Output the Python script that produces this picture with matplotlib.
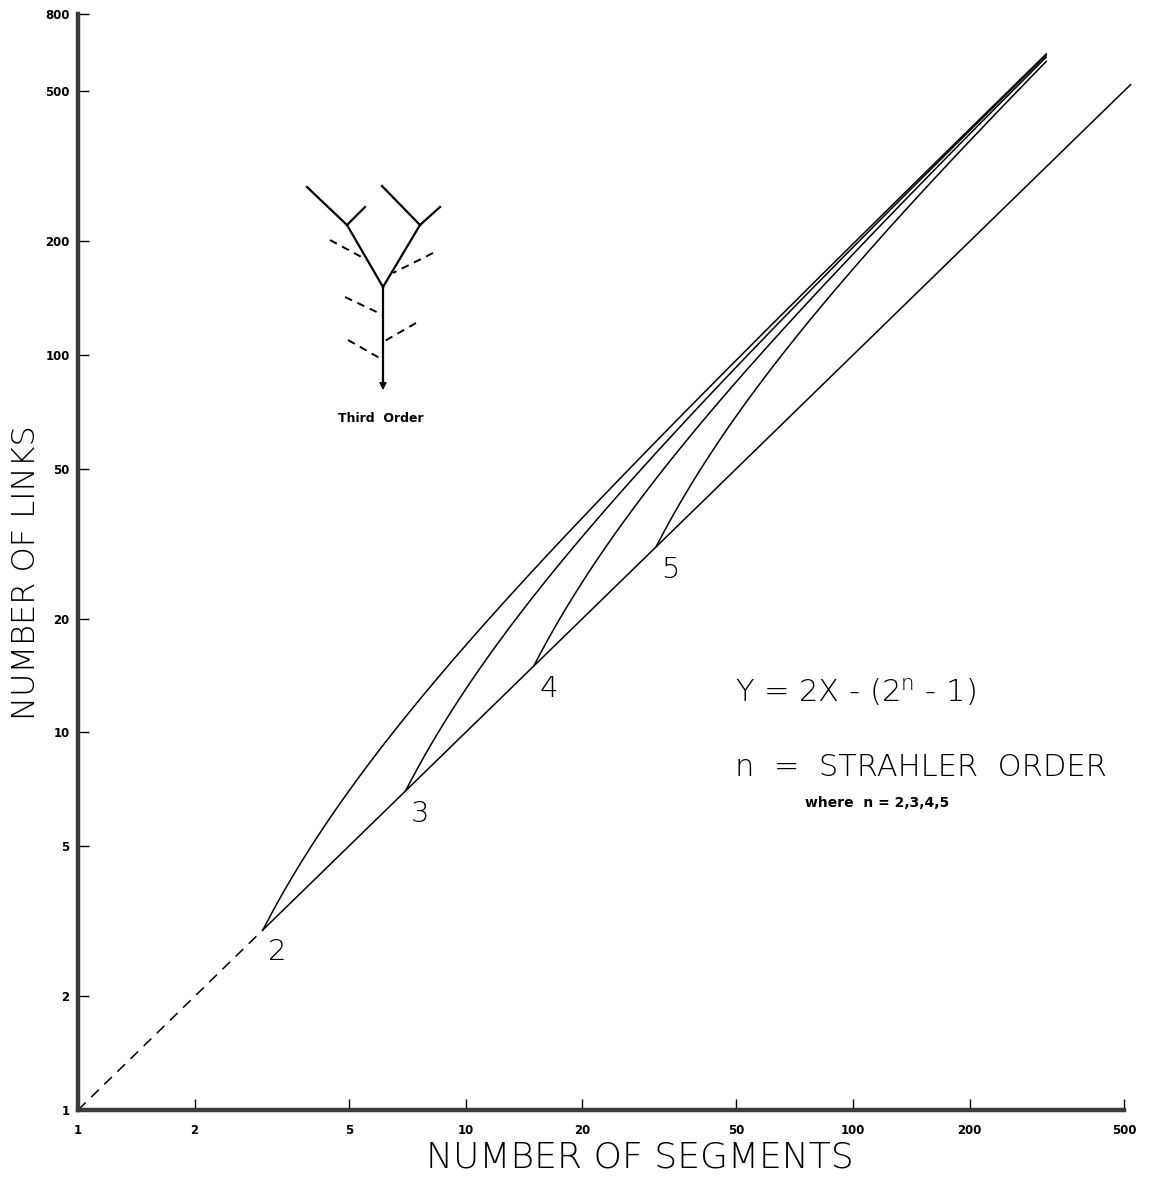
import numpy as np
import matplotlib
matplotlib.use("Agg")
import matplotlib.pyplot as plt
from matplotlib.ticker import FixedLocator, FixedFormatter, NullLocator

# Strahler orders and the points where each curve starts (X = Y = 2^n - 1)
orders = [2, 3, 4, 5]
start_segments = [3, 7, 15, 31]
end_segments = 315          # upper end of the order curves
line_end = 520              # upper end of the Y = X boundary

x_ticks = [1, 2, 5, 10, 20, 50, 100, 200, 500]
x_tick_labels = ["1", "2", "5", "10", "20", "50", "100", "200", "500"]
y_ticks = [1, 2, 5, 10, 20, 50, 100, 200, 500, 800]
y_tick_labels = ["1", "2", "5", "10", "20", "50", "100", "200", "500", "800"]

W, H = 1174, 1182
fig = plt.figure(figsize=(W / 100, H / 100), dpi=100)
fig.patch.set_facecolor("white")

def fpos(px, py):
    """pixel position (from top-left) -> figure fraction"""
    return px / W, 1 - py / H

left, bottom = fpos(78, 1110)
right, top = fpos(1124, 14)
ax = fig.add_axes([left, bottom, right - left, top - bottom])
ax.set_xscale("log")
ax.set_yscale("log")
ax.set_xlim(1, 500)
ax.set_ylim(1, 800)

lw = 1.1
# Y = X boundary: dashed below order 2, solid above
ax.plot([1, start_segments[0]], [1, start_segments[0]], color="black",
        lw=lw, dashes=(7, 5))
ax.plot([start_segments[0], line_end], [start_segments[0], line_end],
        color="black", lw=lw, clip_on=False)

# Y = 2X - (2^n - 1) for each order
for n, x0 in zip(orders, start_segments):
    xs = np.geomspace(x0, end_segments, 300)
    ys = 2 * xs - (2 ** n - 1)
    ax.plot(xs, ys, color="black", lw=lw)
    ax.annotate(str(n), (x0, x0), xytext=(4, -22), textcoords="offset points",
                fontsize=21, fontweight="light")

for side in ["top", "right"]:
    ax.spines[side].set_visible(False)
for side in ["left", "bottom"]:
    ax.spines[side].set_linewidth(3.2)
    ax.spines[side].set_color("#3a3a3a")

ax.xaxis.set_major_locator(FixedLocator(x_ticks))
ax.xaxis.set_major_formatter(FixedFormatter(x_tick_labels))
ax.yaxis.set_major_locator(FixedLocator(y_ticks))
ax.yaxis.set_major_formatter(FixedFormatter(y_tick_labels))
ax.xaxis.set_minor_locator(NullLocator())
ax.yaxis.set_minor_locator(NullLocator())
ax.tick_params(axis="both", direction="in", length=8, width=1.0,
               labelsize=8.5, colors="black")
ax.tick_params(axis="x", pad=10)
ax.tick_params(axis="y", pad=6)
for lab in ax.get_xticklabels() + ax.get_yticklabels():
    lab.set_fontweight("bold")

# axis titles
fig.text(*fpos(640, 1158), "NUMBER OF SEGMENTS", fontsize=26,
         fontweight="light", ha="center", va="center")
fig.text(*fpos(26, 573), "NUMBER OF LINKS", fontsize=23,
         fontweight="light", ha="center", va="center", rotation=90)

# equation block
fig.text(*fpos(735, 692), "Y = 2X - (2$^{\\mathregular{n}}$ - 1)",
         fontsize=22, fontweight="light", va="center", ha="left")
fig.text(*fpos(735, 767), "n  =  STRAHLER  ORDER", fontsize=22,
         fontweight="light", va="center", ha="left")
fig.text(*fpos(805, 803), "where  n = 2,3,4,5", fontsize=10,
         fontweight="bold", va="center", ha="left")

# third-order stream network sketch
solid_segs = [
    [(307, 187), (347, 225)], [(347, 225), (365, 207)],
    [(382, 186), (420, 225)], [(420, 225), (440, 207)],
    [(347, 225), (383, 287)], [(420, 225), (383, 287)],
    [(383, 287), (383, 384)],
]
dashed_segs = [
    [(330, 240), (367, 260)], [(433, 253), (393, 273)],
    [(345, 297), (383, 315)], [(416, 323), (383, 342)],
    [(348, 340), (383, 360)],
]
for seg in solid_segs:
    (x1, y1), (x2, y2) = fpos(*seg[0]), fpos(*seg[1])
    fig.add_artist(plt.Line2D([x1, x2], [y1, y2], color="black", lw=1.6,
                              transform=fig.transFigure))
for seg in dashed_segs:
    (x1, y1), (x2, y2) = fpos(*seg[0]), fpos(*seg[1])
    fig.add_artist(plt.Line2D([x1, x2], [y1, y2], color="black", lw=1.4,
                              dashes=(4, 3), transform=fig.transFigure))
ax.annotate("", xy=fpos(383, 393), xytext=fpos(383, 380),
            xycoords="figure fraction", textcoords="figure fraction",
            arrowprops=dict(arrowstyle="-|>", color="black", lw=1.2,
                            mutation_scale=10, fill=False))
fig.text(*fpos(381, 418), "Third  Order", fontsize=9, fontweight="bold",
         ha="center", va="center")

fig.savefig("out.png", dpi=100, facecolor="white")
